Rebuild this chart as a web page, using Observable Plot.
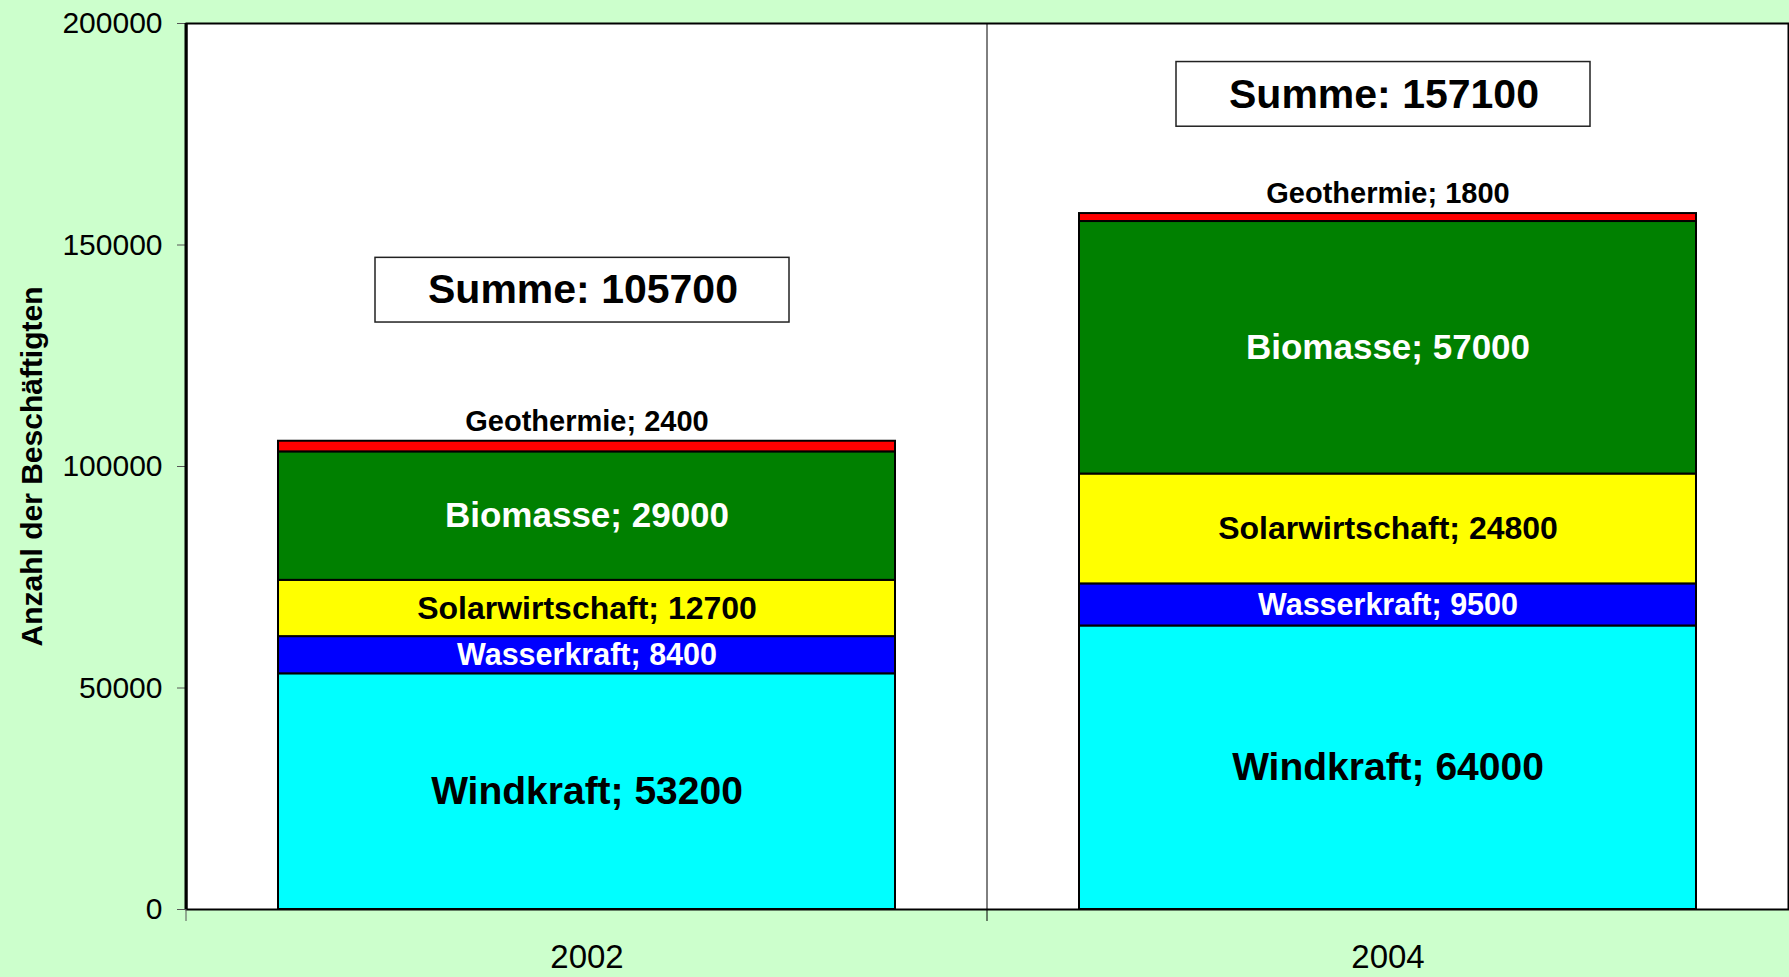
<!DOCTYPE html>
<html>
<head>
<meta charset="utf-8">
<script src="https://cdn.jsdelivr.net/npm/d3@7"></script>
<script src="https://cdn.jsdelivr.net/npm/@observablehq/plot@0.6"></script>
<style>
  html, body { margin: 0; padding: 0; background: #CCFFCC; }
  #chart svg { display: block; }
</style>
</head>
<body>
<div id="chart"></div>
<script>
// ---- data ----
const years = ["2002", "2004"];
const sources = ["Windkraft", "Wasserkraft", "Solarwirtschaft", "Biomasse", "Geothermie"];
const values2002 = [53200, 8400, 12700, 29000, 2400];
const values2004 = [64000, 9500, 24800, 57000, 1800];
const yTicks = [0, 50000, 100000, 150000, 200000];
const yTitle = "Anzahl der Beschäftigten";

// ---- table built from the arrays ----
const valuesByYear = {"2002": values2002, "2004": values2004};
const rows = [];
for (const yr of years) sources.forEach((s, i) => rows.push({year: yr, source: s, value: valuesByYear[yr][i]}));
const totals = years.map(yr => ({year: yr, total: d3.sum(valuesByYear[yr])}));

const sourceColors = ["#00FFFF", "#0000FF", "#FFFF00", "#008000", "#FF0000"];
const whiteLabels = new Set(["Wasserkraft", "Biomasse"]);
const labelSize = {Windkraft: 39, Wasserkraft: 30.5, Solarwirtschaft: 32, Biomasse: 35, Geothermie: 29};
const font = "'Liberation Sans', Arial, sans-serif";
const label = d => `${d.source}; ${d.value}`;
const boxCenter = yr => yr === "2002" ? 139800 : 184000;
const boxHalf = 7300;

const plot = Plot.plot({
  width: 1789,
  height: 977,
  marginLeft: 186,
  marginRight: 1,
  marginTop: 23,
  marginBottom: 68,
  style: {background: "#CCFFCC", fontFamily: font, color: "black"},
  x: {domain: years, paddingInner: 0.23, paddingOuter: 0.115, label: null},
  y: {domain: [0, 200000], label: null},
  color: {domain: sources, range: sourceColors},
  marks: [
    Plot.frame({fill: "white", stroke: "black", strokeWidth: 2}),
    Plot.barY(rows, Plot.stackY({x: "year", y: "value", fill: "source", stroke: "black", strokeWidth: 2})),
    // labels inside segments (black)
    Plot.text(rows, Plot.stackY({
      x: "year", y: "value",
      text: d => (d.source !== "Geothermie" && !whiteLabels.has(d.source)) ? label(d) : "",
      fontSize: d => labelSize[d.source], fontWeight: "bold", fill: "black"
    })),
    // labels inside segments (white)
    Plot.text(rows, Plot.stackY({
      x: "year", y: "value",
      text: d => whiteLabels.has(d.source) ? label(d) : "",
      fontSize: d => labelSize[d.source], fontWeight: "bold", fill: "white"
    })),
    // Geothermie label above bar
    Plot.text(rows, Plot.stackY2({
      x: "year", y: "value",
      text: d => d.source === "Geothermie" ? label(d) : "",
      fontSize: d => labelSize[d.source], fontWeight: "bold", fill: "black", dy: -20
    })),
    // Summe boxes
    Plot.barY(totals, {
      x: "year", y1: d => boxCenter(d.year) - boxHalf, y2: d => boxCenter(d.year) + boxHalf,
      fill: "white", stroke: "#222", strokeWidth: 1.5, insetLeft: 97, insetRight: 106
    }),
    Plot.text(totals, {
      x: "year", y: d => boxCenter(d.year), text: d => `Summe: ${d.total}`,
      fontSize: 41, fontWeight: "bold", fill: "black", dx: -4
    }),
    Plot.axisY({ticks: yTicks, tickFormat: d => String(d), tickSize: 9, tickPadding: 15, fontSize: 30, stroke: "#555", label: null}),
    Plot.axisX({tickSize: 0, tickPadding: 35, fontSize: 33, label: null}),
    Plot.text([yTitle], {frameAnchor: "left", textAnchor: "middle", rotate: -90, dx: -154, fontSize: 30, fontWeight: "bold", fill: "black"})
  ]
});

// category divider and category-axis ticks, positioned from the x scale
const xs = plot.scale("x");
const ys = plot.scale("y");
const step = xs.step !== undefined ? xs.step : (xs.range[1] - xs.range[0]) / years.length;
const bw = xs.bandwidth;
const boundary = xs.apply(years[0]) + bw + (step - bw) / 2;
const yTop = ys.apply(200000), yBot = ys.apply(0);
const svg = d3.select(plot);
svg.append("line").attr("x1", boundary).attr("x2", boundary).attr("y1", yTop).attr("y2", yBot + 12)
  .attr("stroke", "black").attr("stroke-width", 1);
svg.append("line").attr("x1", xs.range[0]).attr("x2", xs.range[0]).attr("y1", yBot).attr("y2", yBot + 12)
  .attr("stroke", "#555").attr("stroke-width", 1);
svg.append("line").attr("x1", xs.range[0]).attr("x2", xs.range[0]).attr("y1", yTop).attr("y2", yBot)
  .attr("stroke", "black").attr("stroke-width", 3);

document.getElementById("chart").appendChild(plot);
</script>
</body>
</html>
